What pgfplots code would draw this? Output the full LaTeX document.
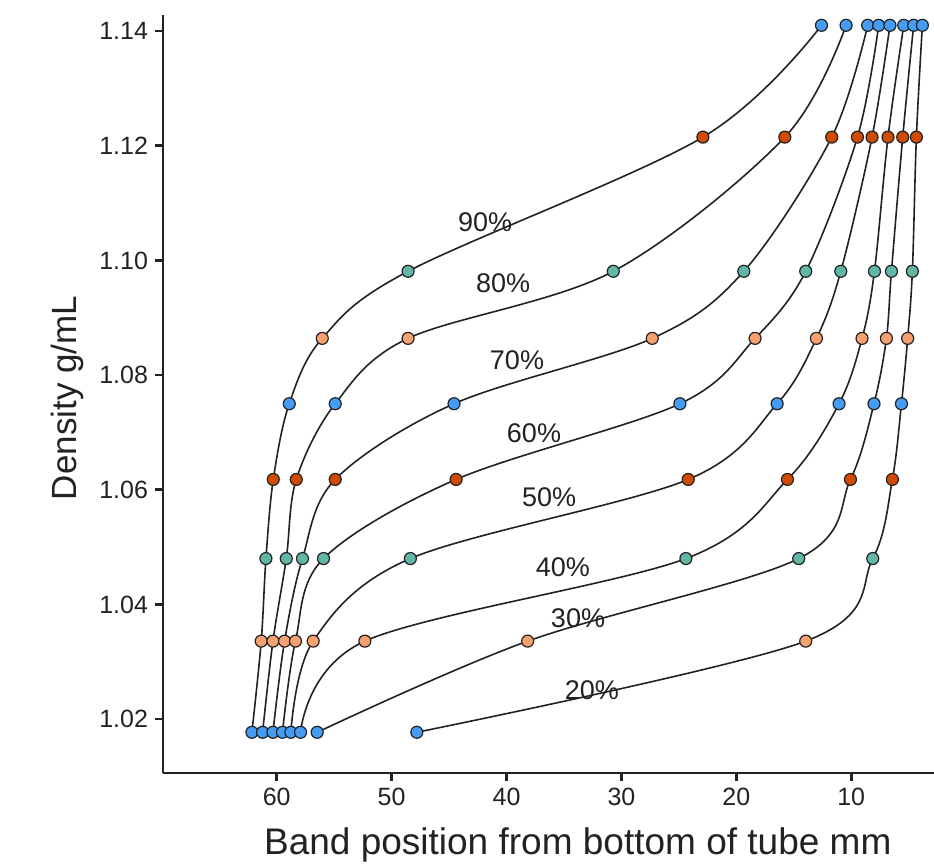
\documentclass[border=0pt]{standalone}
\usepackage{pgfplots}
\usepackage{pgfplotstable}
\usepackage{fontspec}
\setmainfont{Liberation Sans}
\pgfplotsset{compat=1.18}
\definecolor{cblue}{HTML}{449CF5}
\definecolor{cred}{HTML}{D04A00}
\definecolor{cteal}{HTML}{62B6A5}
\definecolor{corange}{HTML}{F9A070}
\definecolor{ink}{HTML}{222222}
\pgfplotstableread{
y cls c90 c80 c70 c60 c50 c40 c30 c20
1.0177 b 62.16 61.23 60.33 59.50 58.77 57.93 56.48 47.81
1.0336 o 61.35 60.33 59.32 58.37 56.83 52.33 38.16 13.96
1.0480 t 60.94 59.17 57.76 55.93 48.37 24.39 14.57 8.13
1.0618 r 60.30 58.30 54.91 44.39 24.19 15.55 10.07 6.42
1.0750 b 58.91 54.91 44.57 24.91 16.45 11.06 8.02 5.63
1.0864 o 56.04 48.57 27.32 18.37 13.03 9.06 6.94 5.09
1.0981 t 48.57 30.71 19.35 13.96 10.91 7.98 6.50 4.68
1.1215 r 22.91 15.78 11.70 9.46 8.19 6.80 5.52 4.33
1.1410 b 12.59 10.45 8.57 7.61 6.63 5.43 4.57 3.81
}\data
\begin{document}
\begin{tikzpicture}
\begin{axis}[
  at={(0,0)}, anchor=south west,
  scale only axis, width=385.5pt, height=379pt,
  x dir=reverse,
  xmin=2.8, xmax=69.9, ymin=1.0106, ymax=1.1428,
  axis lines=left, axis line style={-, line width=1.4pt, ink},
  tick align=outside, major tick length=4pt,
  tick style={line width=1.3pt, ink},
  xtick={10,20,30,40,50,60}, ytick={1.02,1.04,1.06,1.08,1.10,1.12,1.14},
  yticklabel style={/pgf/number format/.cd, fixed, fixed zerofill, precision=2},
  /pgf/number format/assume math mode=true,
  ticklabel style={font=\fontsize{12.5}{14}\selectfont, text=ink},
  xlabel={Band position from bottom of tube mm},
  ylabel={Density g/mL},
  xlabel style={at={(axis description cs:0.538,-0.095)}, anchor=center, font=\fontsize{18.5}{20}\selectfont, text=ink},
  ylabel style={at={(axis description cs:-0.1245,0.4947)}, anchor=center, font=\fontsize{17.5}{20}\selectfont, text=ink},
  clip=false,
]
\pgfplotsinvokeforeach{90,80,70,60,50,40,30,20}{
  \addplot[smooth, tension=0.55, ink, line width=0.8pt, no marks] table[x=c#1, y=y] {\data};
}
\pgfplotsinvokeforeach{90,80,70,60,50,40,30,20}{
  \addplot[scatter, only marks, scatter src=explicit symbolic,
    scatter/classes={
      b={mark=*, draw=ink, fill=cblue},
      o={mark=*, draw=ink, fill=corange},
      t={mark=*, draw=ink, fill=cteal},
      r={mark=*, draw=ink, fill=cred}},
    mark size=3pt, mark options={line width=0.6pt}]
    table[x=c#1, y=y, meta=cls] {\data};
}
\begin{scope}[every node/.style={font=\fontsize{13.5}{15}\selectfont, text=ink}]
\node at (axis cs:41.87,1.1067) {90\%};
\node at (axis cs:40.30,1.0960) {80\%};
\node at (axis cs:39.09,1.0826) {70\%};
\node at (axis cs:37.61,1.0699) {60\%};
\node at (axis cs:36.30,1.0587) {50\%};
\node at (axis cs:35.09,1.0465) {40\%};
\node at (axis cs:33.78,1.0376) {30\%};
\node at (axis cs:32.57,1.0251) {20\%};
\end{scope}
\end{axis}
\pgfresetboundingbox
\path[use as bounding box] (-81.5pt,-47pt) rectangle (385.5pt,386.5pt);
\end{tikzpicture}
\end{document}
